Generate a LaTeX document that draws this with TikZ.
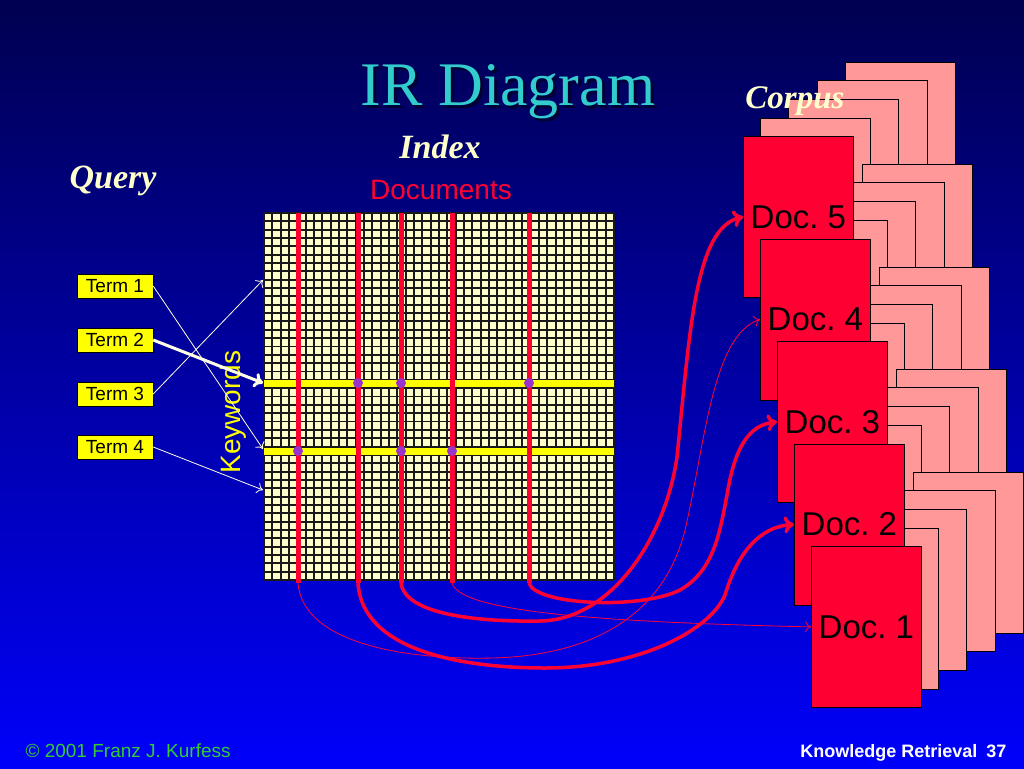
\documentclass[tikz,border=0pt]{standalone}
\usepackage{fontspec}
\setmainfont{Liberation Serif}
\setsansfont{Liberation Sans}
\usepackage{tikz}
\usetikzlibrary{arrows.meta}
\definecolor{bgtop}{RGB}{0,0,80}
\definecolor{bgbot}{RGB}{0,0,250}
\definecolor{docred}{RGB}{255,0,51}
\definecolor{pagepink}{RGB}{255,153,153}
\definecolor{gridfill}{RGB}{255,255,204}
\definecolor{keyyellow}{RGB}{255,255,0}
\definecolor{dotpurple}{RGB}{153,51,204}
\definecolor{linkwhite}{RGB}{255,255,230}
\definecolor{titleteal}{RGB}{51,204,204}
\definecolor{paleyellow}{RGB}{255,255,204}
\definecolor{footgreen}{RGB}{51,204,51}
\tikzset{
  heading/.style={text=paleyellow, font=\bfseries\itshape\fontsize{34}{34}\selectfont, anchor=base},
  term/.style={draw=black, fill=keyyellow, font=\sffamily\fontsize{19}{19}\selectfont,
    minimum width=76pt, minimum height=24pt, inner sep=1pt},
  docbox/.style={draw=black, line width=0.8pt, fill=docred, minimum width=110pt,
    minimum height=161pt, inner sep=0pt, font=\sffamily\fontsize{33}{33}\selectfont},
  page/.style={draw=black, line width=0.8pt, fill=pagepink},
  gridline/.style={draw=black!90, line width=1.9pt},
  column/.style={draw=docred, line width=5pt},
  keyrow/.style={draw=keyyellow, line width=7pt},
  termlink/.style={draw=linkwhite, line width=0.8pt, -{To[length=6pt,width=11pt]}},
  hotlink/.style={draw=linkwhite, line width=3pt, -{To[length=9pt,width=15pt]}},
  thinlink/.style={draw=docred, line width=0.8pt, -{To[length=6pt,width=11pt]}},
  thicklink/.style={draw=docred, line width=3.5pt, -{To[length=10pt,width=17pt]}},
}
\begin{document}
\begin{tikzpicture}[x=1pt, y=-1pt]
      \useasboundingbox (0,0) rectangle (1024,768);
      \shade[top color=bgtop, bottom color=bgbot] (0,0) rectangle (1024,768);

      % title with its shadow
      \node[anchor=base, text=black!80!blue, font=\fontsize{62}{62}\selectfont] at (511,108) {IR Diagram};
      \node[anchor=base, text=titleteal, font=\fontsize{62}{62}\selectfont] (title) at (508,105) {IR Diagram};

      \node[heading] (query) at (113,188) {Query};
      \node[heading] (index) at (440,158) {Index};
      \node[anchor=base, text=docred, font=\sffamily\fontsize{28}{28}\selectfont] (documents) at (441,199) {Documents};

      % the index matrix
      \fill[gridfill] (264,213) rectangle (614,580);
      \foreach \i in {0,...,42}
        \draw[gridline] ({264+\i*350/42},213) -- ({264+\i*350/42},580);
      \foreach \j in {0,...,44}
        \draw[gridline] (264,{213+\j*367/44}) -- (614,{213+\j*367/44});

      \draw[keyrow] (264,383) -- (614,383);
      \draw[keyrow] (264,451) -- (614,451);
      \foreach \x [count=\c] in {298,358,401,452,529} {
        \draw[column] (\x,213) -- (\x,583);
        \coordinate (col\c) at (\x,583);
      }
      \foreach \x/\y in {358/383, 401/383, 529/383, 298/451, 401/451, 452/451}
        \fill[dotpurple] (\x,\y) circle (5);

      \node[rotate=90, text=keyyellow, font=\sffamily\fontsize{28}{28}\selectfont] (keywords) at (233,412) {Keywords};

      % query terms
      \node[term] (term1) at (115,286) {Term 1};
      \node[term] (term2) at (115,340) {Term 2};
      \node[term] (term3) at (115,394) {Term 3};
      \node[term] (term4) at (115,447) {Term 4};
      \coordinate (kw1) at (263,449);
      \coordinate (kw2) at (263,383);
      \coordinate (kw3) at (263,280);
      \coordinate (kw4) at (263,490);
      \draw[termlink] (term1.east) -- (kw1);
      \draw[hotlink] (term2.east) -- (kw2);
      \draw[termlink] (term3.east) -- (kw3);
      \draw[termlink] (term4.east) -- (kw4);

      % corpus: the pages behind each document first, the documents on top
      \foreach \n in {0,...,4}
        \foreach \ox/\oy in {102/-74, 74/-56, 45/-37, 17/-18}
          \draw[page] ({743+17*\n+\ox},{136+102.5*\n+\oy}) rectangle ++(110,161);
      \foreach \n/\d in {0/5,1/4,2/3,3/2,4/1}
        \node[docbox, anchor=north west] (doc\d) at ({743+17*\n},{136+102.5*\n}) {Doc.\ \d};
      \node[heading, font=\bfseries\itshape\fontsize{33}{33}\selectfont] (corpus) at (795,108) {Corpus};

      % postings
      \draw[thinlink] (col1) .. controls (303,645) and (410,660) .. (493,658)
        .. controls (600,655) and (665,610) .. (685,530)
        .. controls (705,445) and (712,335) .. (doc4.west);
      \draw[thicklink] (col2) .. controls (362,650) and (460,668) .. (545,668)
        .. controls (640,668) and (710,630) .. (725,595)
        .. controls (737,555) and (758,527) .. (doc2.west);
      \draw[thicklink] (col3) .. controls (405,615) and (480,622) .. (540,621)
        .. controls (610,620) and (665,540) .. (677,457)
        .. controls (690,330) and (695,228) .. (doc5.west);
      \draw[thinlink] (col4) .. controls (460,612) and (600,622) .. (doc1.west);
      \draw[thicklink] (col5) .. controls (535,605) and (640,610) .. (680,590)
        .. controls (715,570) and (720,530) .. (727,495)
        .. controls (735,445) and (750,425) .. (doc3.west);

      \node[anchor=base west, text=footgreen, font=\sffamily\fontsize{19}{19}\selectfont] (credit) at (22,757) {\textcopyright{} 2001 Franz J. Kurfess};
      \node[anchor=base east, text=white, font=\sffamily\bfseries\fontsize{18}{18}\selectfont] (course) at (1010,757) {Knowledge Retrieval\enspace 37};
\end{tikzpicture}
\end{document}
